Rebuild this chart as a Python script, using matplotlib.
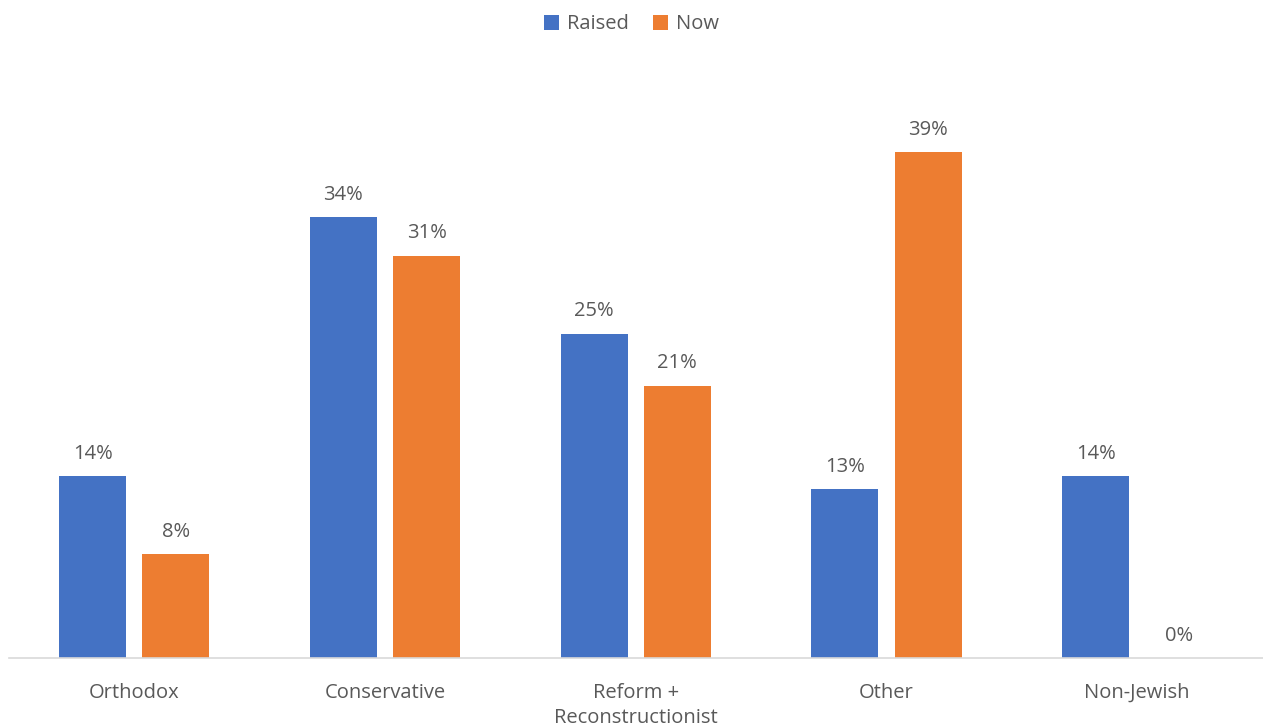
import numpy as np
import matplotlib
matplotlib.use('Agg')
import matplotlib.pyplot as plt

plt.rcParams['font.family'] = ['Open Sans', 'DejaVu Sans']

categories = ['Orthodox', 'Conservative', 'Reform +\nReconstructionist', 'Other', 'Non-Jewish']
raised = [14, 34, 25, 13, 14]
now = [8, 31, 21, 39, 0]

blue = '#4472C4'
orange = '#ED7D31'
text_color = '#595959'

fig = plt.figure(figsize=(12.63, 7.28), dpi=100)
ax = fig.add_axes([0.0070, 0.0962, 0.9927, 0.802])

x = np.arange(len(categories))
w = 0.268
off = 0.166
b1 = ax.bar(x - off, raised, w, color=blue, label='Raised')
b2 = ax.bar(x + off, now, w, color=orange, label='Now')

for bars, vals in ((b1, raised), (b2, now)):
    for b, v in zip(bars, vals):
        ax.text(b.get_x() + b.get_width() / 2, v + 0.95, f'{v}%',
                ha='center', va='bottom', fontsize=14.5, color=text_color)

ax.set_xlim(-0.5, len(categories) - 0.5)
ax.set_ylim(0, 45)
ax.set_xticks(x)
ax.set_xticklabels(categories, fontsize=14.5, color=text_color, linespacing=1.35)
ax.tick_params(axis='x', length=0, pad=18)
ax.set_yticks([])
for s in ['top', 'right', 'left']:
    ax.spines[s].set_visible(False)
ax.spines['bottom'].set_color('#D9D9D9')
ax.spines['bottom'].set_linewidth(1.2)

fig.legend(loc='upper center', bbox_to_anchor=(0.5, 1.005), ncol=2, frameon=False,
           fontsize=14.5, labelcolor=text_color, handlelength=0.75, handleheight=0.75,
           handletextpad=0.4, columnspacing=1.2)

fig.savefig('out.png', dpi=100)
